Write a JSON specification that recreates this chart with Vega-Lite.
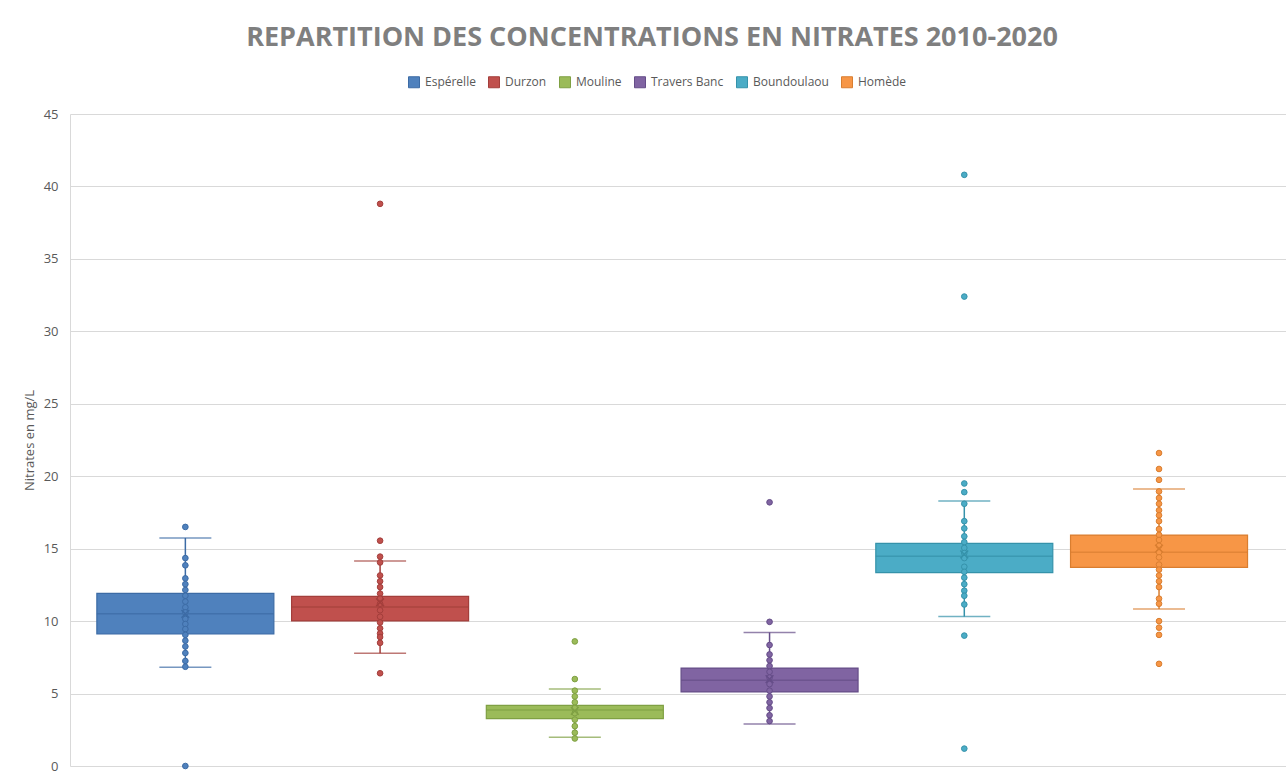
{
  "$schema": "https://vega.github.io/schema/vega-lite/v6.json",
  "width": 1216,
  "height": 652,
  "autosize": {"type": "none"},
  "padding": {"left": 70, "top": 114, "right": 0, "bottom": 10},
  "background": "white",
  "config": {
    "font": "Open Sans",
    "view": {"stroke": null},
    "axis": {"labelFont": "Open Sans", "titleFont": "Open Sans"},
    "legend": {"labelFont": "Open Sans"}
  },
  "title": {
    "text": "REPARTITION DES CONCENTRATIONS EN NITRATES 2010-2020",
    "font": "Open Sans",
    "fontSize": 27,
    "fontWeight": "bold",
    "color": "#7F7F7F",
    "anchor": "middle",
    "frame": "group",
    "dx": -26,
    "offset": 24
  },
  "datasets": {
    "stats": [
      {"station": "Espérelle", "q1": 9.11, "median": 10.51, "q3": 11.92, "lo": 6.81, "hi": 15.74, "mean": 10.5},
      {"station": "Durzon", "q1": 10.01, "median": 10.97, "q3": 11.71, "lo": 7.78, "hi": 14.15, "mean": 11.3},
      {"station": "Mouline", "q1": 3.27, "median": 3.86, "q3": 4.19, "lo": 1.98, "hi": 5.31, "mean": 3.8},
      {"station": "Travers Banc", "q1": 5.11, "median": 5.91, "q3": 6.76, "lo": 2.9, "hi": 9.22, "mean": 6.0},
      {"station": "Boundoulaou", "q1": 13.35, "median": 14.47, "q3": 15.37, "lo": 10.31, "hi": 18.29, "mean": 14.6},
      {"station": "Homède", "q1": 13.71, "median": 14.75, "q3": 15.94, "lo": 10.84, "hi": 19.12, "mean": 15.0}
    ],
    "points": [
      {"station": "Espérelle", "value": 16.5}, {"station": "Espérelle", "value": 14.35}, {"station": "Espérelle", "value": 13.85},
      {"station": "Espérelle", "value": 12.95}, {"station": "Espérelle", "value": 12.55}, {"station": "Espérelle", "value": 12.15},
      {"station": "Espérelle", "value": 11.75}, {"station": "Espérelle", "value": 11.35}, {"station": "Espérelle", "value": 10.95},
      {"station": "Espérelle", "value": 10.6}, {"station": "Espérelle", "value": 10.15}, {"station": "Espérelle", "value": 9.8},
      {"station": "Espérelle", "value": 9.45}, {"station": "Espérelle", "value": 9.05}, {"station": "Espérelle", "value": 8.65},
      {"station": "Espérelle", "value": 8.25}, {"station": "Espérelle", "value": 7.8}, {"station": "Espérelle", "value": 7.25},
      {"station": "Espérelle", "value": 6.85}, {"station": "Espérelle", "value": 0},
      {"station": "Durzon", "value": 38.8}, {"station": "Durzon", "value": 15.55}, {"station": "Durzon", "value": 14.45},
      {"station": "Durzon", "value": 14.05}, {"station": "Durzon", "value": 13.15}, {"station": "Durzon", "value": 12.75},
      {"station": "Durzon", "value": 12.35}, {"station": "Durzon", "value": 11.9}, {"station": "Durzon", "value": 11.55},
      {"station": "Durzon", "value": 11.2}, {"station": "Durzon", "value": 10.75}, {"station": "Durzon", "value": 10.3},
      {"station": "Durzon", "value": 9.9}, {"station": "Durzon", "value": 9.5}, {"station": "Durzon", "value": 9.15},
      {"station": "Durzon", "value": 8.9}, {"station": "Durzon", "value": 8.5}, {"station": "Durzon", "value": 6.4},
      {"station": "Mouline", "value": 8.6}, {"station": "Mouline", "value": 6.0}, {"station": "Mouline", "value": 5.2},
      {"station": "Mouline", "value": 4.8}, {"station": "Mouline", "value": 4.4}, {"station": "Mouline", "value": 4.0},
      {"station": "Mouline", "value": 3.65}, {"station": "Mouline", "value": 3.2}, {"station": "Mouline", "value": 2.75},
      {"station": "Mouline", "value": 2.3}, {"station": "Mouline", "value": 1.9},
      {"station": "Travers Banc", "value": 18.2}, {"station": "Travers Banc", "value": 9.95}, {"station": "Travers Banc", "value": 8.35},
      {"station": "Travers Banc", "value": 7.7}, {"station": "Travers Banc", "value": 7.3}, {"station": "Travers Banc", "value": 6.9},
      {"station": "Travers Banc", "value": 6.5}, {"station": "Travers Banc", "value": 6.1}, {"station": "Travers Banc", "value": 5.65},
      {"station": "Travers Banc", "value": 5.2}, {"station": "Travers Banc", "value": 4.8}, {"station": "Travers Banc", "value": 4.4},
      {"station": "Travers Banc", "value": 4.0}, {"station": "Travers Banc", "value": 3.5}, {"station": "Travers Banc", "value": 3.1},
      {"station": "Boundoulaou", "value": 40.8}, {"station": "Boundoulaou", "value": 32.4}, {"station": "Boundoulaou", "value": 19.5},
      {"station": "Boundoulaou", "value": 18.9}, {"station": "Boundoulaou", "value": 18.1}, {"station": "Boundoulaou", "value": 16.9},
      {"station": "Boundoulaou", "value": 16.4}, {"station": "Boundoulaou", "value": 15.85}, {"station": "Boundoulaou", "value": 15.45},
      {"station": "Boundoulaou", "value": 15.05}, {"station": "Boundoulaou", "value": 14.7}, {"station": "Boundoulaou", "value": 14.35},
      {"station": "Boundoulaou", "value": 13.75}, {"station": "Boundoulaou", "value": 13.4}, {"station": "Boundoulaou", "value": 13.0},
      {"station": "Boundoulaou", "value": 12.55}, {"station": "Boundoulaou", "value": 12.1}, {"station": "Boundoulaou", "value": 11.75},
      {"station": "Boundoulaou", "value": 11.15}, {"station": "Boundoulaou", "value": 9.0}, {"station": "Boundoulaou", "value": 1.2},
      {"station": "Homède", "value": 21.6}, {"station": "Homède", "value": 20.5}, {"station": "Homède", "value": 19.75},
      {"station": "Homède", "value": 18.95}, {"station": "Homède", "value": 18.5}, {"station": "Homède", "value": 18.1},
      {"station": "Homède", "value": 17.65}, {"station": "Homède", "value": 17.3}, {"station": "Homède", "value": 16.9},
      {"station": "Homède", "value": 16.35}, {"station": "Homède", "value": 15.95}, {"station": "Homède", "value": 15.6},
      {"station": "Homède", "value": 15.2}, {"station": "Homède", "value": 14.75}, {"station": "Homède", "value": 14.4},
      {"station": "Homède", "value": 13.9}, {"station": "Homède", "value": 13.55}, {"station": "Homède", "value": 13.15},
      {"station": "Homède", "value": 12.75}, {"station": "Homède", "value": 12.35}, {"station": "Homède", "value": 11.55},
      {"station": "Homède", "value": 11.2}, {"station": "Homède", "value": 10.0}, {"station": "Homède", "value": 9.55},
      {"station": "Homède", "value": 9.05}, {"station": "Homède", "value": 7.05}
    ]
  },
  "encoding": {
    "x": {
      "field": "station",
      "type": "nominal",
      "sort": ["Espérelle", "Durzon", "Mouline", "Travers Banc", "Boundoulaou", "Homède"],
      "scale": {"paddingInner": 0, "paddingOuter": 0.1222, "align": 0.378},
      "axis": null
    }
  },
  "layer": [
    {
      "data": {"name": "stats"},
      "mark": {"type": "rule", "strokeWidth": 1.5},
      "encoding": {
        "y": {
          "field": "lo",
          "type": "quantitative",
          "scale": {"domain": [0, 45], "nice": false},
          "axis": {
            "title": "Nitrates en mg/L",
            "values": [0, 5, 10, 15, 20, 25, 30, 35, 40, 45],
            "grid": true,
            "gridColor": "#D9D9D9",
            "gridWidth": 1,
            "domain": true,
            "domainColor": "#D9D9D9",
            "ticks": false,
            "labelColor": "#595959",
            "labelFontSize": 13,
            "labelPadding": 12,
            "titleColor": "#595959",
            "titleFontSize": 13,
            "titleFontWeight": "normal",
            "titlePadding": 7
          }
        },
        "y2": {"field": "hi"},
        "stroke": {
          "field": "station",
          "type": "nominal",
          "scale": {
            "domain": ["Espérelle", "Durzon", "Mouline", "Travers Banc", "Boundoulaou", "Homède"],
            "range": ["#3C6BA5", "#A33E3B", "#7FA043", "#654D88", "#3592AA", "#D97E30"]
          },
          "legend": {
            "orient": "none",
            "direction": "horizontal",
            "legendX": 338,
            "legendY": -38,
            "title": null,
            "symbolType": "square",
            "symbolSize": 121,
            "symbolStrokeWidth": 1,
            "symbolOpacity": 1,
            "labelFontSize": 12,
            "labelColor": "#595959",
            "labelOffset": 5,
            "columnPadding": 10,
            "encode": {"symbols": {"update": {"opacity": {"value": 1}, "fillOpacity": {"value": 1}, "strokeOpacity": {"value": 1}}}}
          }
        }
      }
    },
    {
      "data": {"name": "stats"},
      "mark": {"type": "tick", "size": 52, "thickness": 0, "filled": false, "strokeWidth": 1.5, "orient": "horizontal"},
      "encoding": {
        "y": {"field": "lo", "type": "quantitative"},
        "stroke": {"field": "station", "type": "nominal"}
      }
    },
    {
      "data": {"name": "stats"},
      "mark": {"type": "tick", "size": 52, "thickness": 0, "filled": false, "strokeWidth": 1.5, "orient": "horizontal"},
      "encoding": {
        "y": {"field": "hi", "type": "quantitative"},
        "stroke": {"field": "station", "type": "nominal"}
      }
    },
    {
      "data": {"name": "stats"},
      "mark": {"type": "bar", "width": 177, "strokeWidth": 1.2},
      "encoding": {
        "y": {"field": "q1", "type": "quantitative"},
        "y2": {"field": "q3"},
        "fill": {
          "field": "station",
          "type": "nominal",
          "scale": {
            "domain": ["Espérelle", "Durzon", "Mouline", "Travers Banc", "Boundoulaou", "Homède"],
            "range": ["#4F81BD", "#C0504D", "#9BBB59", "#8064A2", "#4BACC6", "#F79646"]
          },
          "legend": {
            "orient": "none",
            "direction": "horizontal",
            "legendX": 338,
            "legendY": -38,
            "title": null,
            "symbolType": "square",
            "symbolSize": 121,
            "symbolStrokeWidth": 1,
            "symbolOpacity": 1,
            "labelFontSize": 12,
            "labelColor": "#595959",
            "labelOffset": 5,
            "columnPadding": 10,
            "encode": {"symbols": {"update": {"opacity": {"value": 1}, "fillOpacity": {"value": 1}, "strokeOpacity": {"value": 1}}}}
          }
        },
        "stroke": {"field": "station", "type": "nominal"}
      }
    },
    {
      "data": {"name": "stats"},
      "mark": {"type": "tick", "size": 177, "thickness": 0, "filled": false, "strokeWidth": 1.5, "orient": "horizontal"},
      "encoding": {
        "y": {"field": "median", "type": "quantitative"},
        "stroke": {"field": "station", "type": "nominal"}
      }
    },
    {
      "data": {"name": "points"},
      "mark": {"type": "point", "filled": true, "size": 32, "strokeWidth": 1, "opacity": 1, "fillOpacity": 1},
      "encoding": {
        "y": {"field": "value", "type": "quantitative"},
        "fill": {"field": "station", "type": "nominal"},
        "stroke": {"field": "station", "type": "nominal"}
      }
    },
    {
      "data": {"name": "stats"},
      "mark": {"type": "point", "shape": "M-1,-1L1,1M-1,1L1,-1", "filled": false, "size": 60, "strokeWidth": 1.5, "opacity": 1},
      "encoding": {
        "y": {"field": "mean", "type": "quantitative"},
        "stroke": {"field": "station", "type": "nominal"}
      }
    }
  ]
}
